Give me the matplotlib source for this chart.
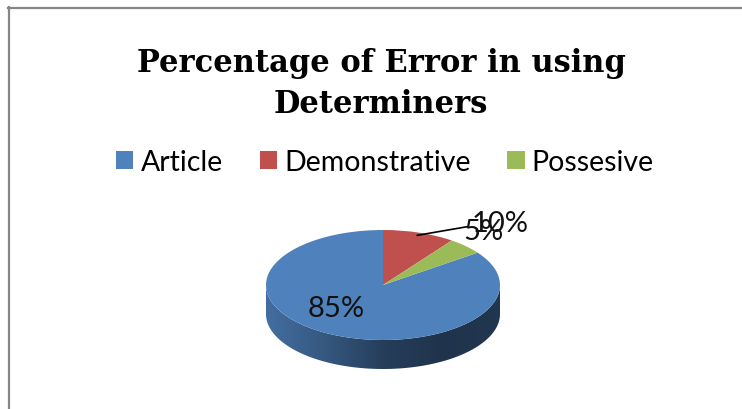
import matplotlib
matplotlib.use('Agg')
import matplotlib.pyplot as plt
import numpy as np
from matplotlib.patches import Polygon
from matplotlib.lines import Line2D
from matplotlib.colors import to_rgb, LinearSegmentedColormap

categories = ['Article', 'Demonstrative', 'Possesive']
values = [85, 10, 5]
pct_labels = ['85%', '10%', '5%']
colors = ['#4F81BD', '#C0504D', '#9BBB59']
title_lines = ['Percentage of Error in using', 'Determiners']

W, H = 742, 410
fig = plt.figure(figsize=(W / 100, H / 100), dpi=100)


def fx(px):
    return px / W


def fy(py):
    return 1 - py / H


# chart-area border (top and left visible)
fig.add_artist(Line2D([fx(8), 1], [fy(9), fy(9)], color='#868686', lw=1.6))
fig.add_artist(Line2D([fx(9), fx(9)], [fy(8), 0], color='#868686', lw=1.6))

# title
for line, base_y in zip(title_lines, [72, 113]):
    fig.text(fx(381), fy(base_y), line, ha='center', va='baseline',
             fontsize=22, fontweight='bold', family='DejaVu Serif')

# pie
cx, cy, a, b = 383, 286, 117, 55
ax = fig.add_axes([fx(253), fy(390), 260 / W, 170 / H])
wedges, _ = ax.pie(values, colors=colors, startangle=36, counterclock=False,
                   radius=1, center=(0, 0), wedgeprops=dict(linewidth=0))

# side of the 3D pie
d = 29 / b
th = np.linspace(np.pi, 2 * np.pi, 200)
top = np.column_stack([np.cos(th), np.sin(th)])
bot = np.column_stack([np.cos(th[::-1]), np.sin(th[::-1]) - d])
poly = Polygon(np.vstack([top, bot]), closed=True, facecolor='none', edgecolor='none')
ax.add_patch(poly)
base = np.array(to_rgb(colors[0]))
cmap = LinearSegmentedColormap.from_list(
    'side', [base * 0.85, base * 0.68, base * 0.48, base * 0.40, base * 0.42])
grad = np.linspace(0, 1, 256).reshape(1, -1)
im = ax.imshow(grad, extent=[-1, 1, -1 - d, 0], cmap=cmap, aspect='auto',
               zorder=0.5, interpolation='bilinear')
im.set_clip_path(poly)

ax.set_aspect('auto')
ax.set_xlim((253 - cx) / a, (513 - cx) / a)
ax.set_ylim((cy - 390) / b, (cy - 220) / b)
ax.axis('off')

# data labels
label_xy = [(-0.40, -0.42), (1.00, 1.13), (0.86, 0.98)]
for w, lab, (lx, ly) in zip(wedges, pct_labels, label_xy):
    ax.text(lx, ly, lab, ha='center', va='center', fontsize=21,
            family='Lato', color='#111111', zorder=5)

# leader line for the 10% label
w = wedges[1]
mid = np.deg2rad((w.theta1 + w.theta2) / 2)
ax.plot([0.95 * np.cos(mid), 0.72], [0.95 * np.sin(mid), 1.06],
        color='black', lw=1.2, zorder=4, clip_on=False)

# legend
fig.legend(wedges, categories, loc='center', bbox_to_anchor=(fx(385), fy(163)),
           ncol=3, frameon=False, handlelength=0.6, handleheight=0.6,
           handletextpad=0.25, columnspacing=1.3,
           prop=dict(family='Lato', size=20.5))

fig.savefig('out.png', dpi=100)
